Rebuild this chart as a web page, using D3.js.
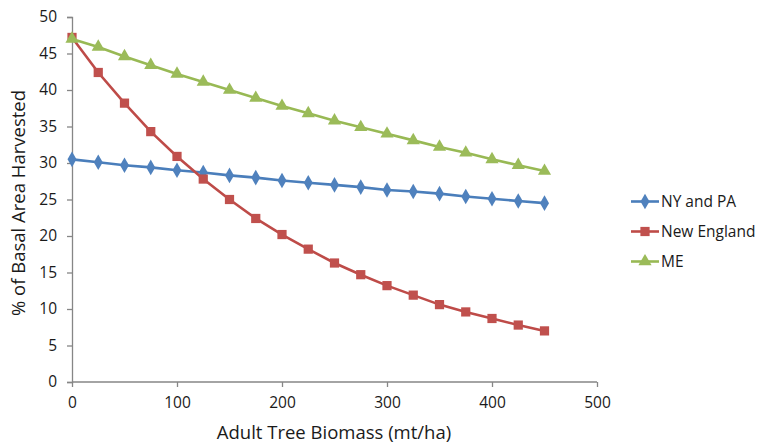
<!DOCTYPE html>
<html><head><meta charset="utf-8">
<script src="https://cdn.jsdelivr.net/npm/d3@7"></script>
<style>body{margin:0;background:#fff}svg{display:block}text{font-family:"Open Sans",sans-serif;fill:#1a1a1a}</style>
</head><body><svg id="c" width="762" height="445"></svg>
<script>
const biomass = [0,25,50,75,100,125,150,175,200,225,250,275,300,325,350,375,400,425,450];
const nyPA = [30.5,30.1,29.7,29.4,29.0,28.7,28.3,28.0,27.6,27.3,27.0,26.7,26.3,26.1,25.8,25.4,25.1,24.8,24.5];
const newEngland = [47.2,42.4,38.2,34.3,30.9,27.8,25.0,22.4,20.2,18.2,16.3,14.7,13.2,11.9,10.6,9.6,8.7,7.8,7.0];
const me = [47.0,45.9,44.6,43.4,42.2,41.1,40.0,38.9,37.8,36.8,35.8,34.9,34.0,33.1,32.2,31.4,30.5,29.7,28.9];
const seriesNames = ["NY and PA","New England","ME"];
const xTicks = [0,100,200,300,400,500];
const yTicks = [0,5,10,15,20,25,30,35,40,45,50];

const svg = d3.select("#c");
const x = d3.scaleLinear().domain([0,500]).range([72,597]);
const y = d3.scaleLinear().domain([0,50]).range([382,17]);
const axisColor = "#868686";

const xa = svg.append("g").attr("transform","translate(0,382)")
  .call(d3.axisBottom(x).tickValues(xTicks).tickSize(5).tickPadding(10));
const ya = svg.append("g").attr("transform","translate(72,0)")
  .call(d3.axisLeft(y).tickValues(yTicks).tickSize(5).tickPadding(10));
[xa,ya].forEach(a=>{
  a.selectAll("path").attr("stroke",axisColor).attr("stroke-width",1.3);
  a.selectAll("line").attr("stroke",axisColor).attr("stroke-width",1.3);
  a.selectAll("text").style("font-size","15.5px").style("font-family","'Open Sans', sans-serif").attr("fill","#1a1a1a");
});
xa.selectAll(".domain").attr("d","M72,0H597");

svg.append("text").attr("x",334).attr("y",439).attr("text-anchor","middle").style("font-size","18.5px").text("Adult Tree Biomass (mt/ha)");
svg.append("text").attr("transform","translate(25,203) rotate(-90)").attr("text-anchor","middle").style("font-size","18.5px").text("% of Basal Area Harvested");

const series = [
  {name:seriesNames[0], vals:nyPA, line:"#4A7EBB", fill:"#4F81BD", sym:d3.symbolDiamond, size:70},
  {name:seriesNames[1], vals:newEngland, line:"#BE4B48", fill:"#C0504D", sym:d3.symbolSquare, size:85},
  {name:seriesNames[2], vals:me, line:"#98B954", fill:"#9BBB59", sym:d3.symbolTriangle, size:75}
];
const line = d3.line().x((d,i)=>x(biomass[i])).y(d=>y(d));
series.forEach(s=>{
  const g = svg.append("g");
  g.append("path").attr("d",line(s.vals)).attr("fill","none").attr("stroke",s.line).attr("stroke-width",2.6);
  g.selectAll("path.m").data(s.vals).join("path").attr("class","m")
    .attr("d",d3.symbol().type(s.sym).size(s.size))
    .attr("transform",(d,i)=>`translate(${x(biomass[i])},${y(d)})`)
    .attr("fill",s.fill);
});

const leg = svg.append("g");
series.forEach((s,i)=>{
  const yy = 201.5 + i*30;
  leg.append("line").attr("x1",631).attr("x2",659).attr("y1",yy).attr("y2",yy).attr("stroke",s.line).attr("stroke-width",2.6);
  leg.append("path").attr("d",d3.symbol().type(s.sym).size(s.size)).attr("transform",`translate(645,${yy})`).attr("fill",s.fill);
  leg.append("text").attr("x",661).attr("y",yy+5.5).style("font-size","15.5px").text(s.name);
});
</script></body></html>
